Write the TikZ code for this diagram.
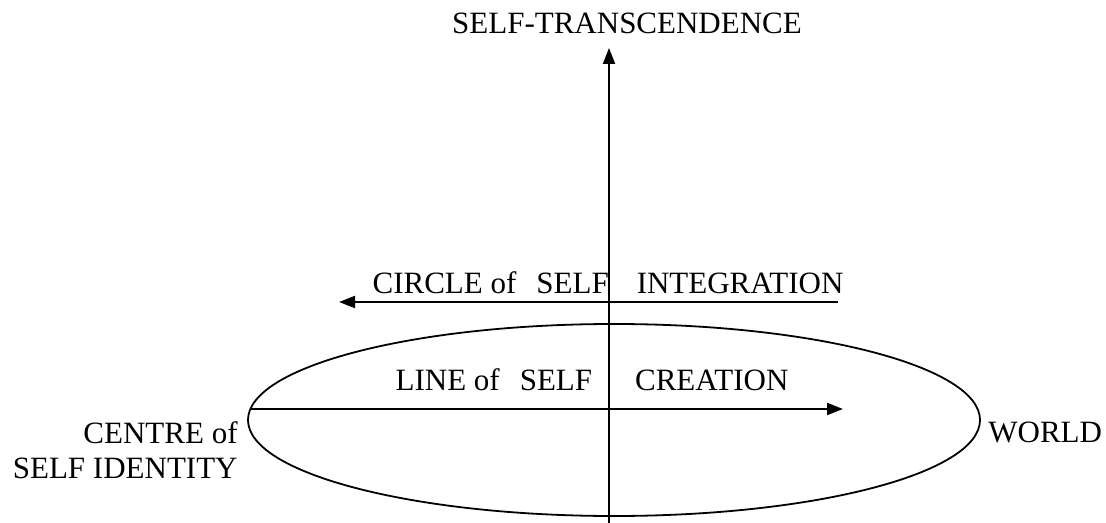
\documentclass[tikz,border=0pt]{standalone}
\usepackage{fontspec}
\setmainfont{Liberation Serif}
\usetikzlibrary{arrows.meta, positioning, shapes.geometric}

\begin{document}
\begin{tikzpicture}[
    x=0.5pt, y=-0.5pt,
    lbl/.style={font=\fontsize{15.5}{17.5}\selectfont, inner sep=0pt},
    arrow/.style={-{Triangle[length=8pt, width=6pt]}, line width=1pt},
    orbit/.style={draw, ellipse, line width=0.9pt, inner sep=0pt,
                  minimum width=366pt, minimum height=96pt},
]
\useasboundingbox (0,0) rectangle (1106,523);

% Ellipse
\node[orbit] (world) at (614,420) {};

% Axis
\coordinate (base) at (609,523);
\coordinate (peak) at (609,48);
\draw[arrow] (base) -- (peak);

% Arrows
\coordinate (intR) at (838,302);
\coordinate (intL) at (339,302);
\coordinate (creL) at (250,409);
\coordinate (creR) at (843,409);
\draw[arrow] (intR) -- (intL);
\draw[arrow] (creL) -- (creR);

% Labels
\node[lbl] (trans) at (627,23) {SELF-TRANSCENDENCE};
\node[lbl] (integ) at (608,283)
    {CIRCLE of\hspace{10pt}SELF\hspace{14pt}INTEGRATION};
\node[lbl] (crea) at (592,380)
    {LINE of\hspace{10pt}SELF\hspace{21.5pt}CREATION};
\node[lbl, align=right, anchor=north east] (centre) at (238,421)
    {CENTRE of\\SELF IDENTITY};
\node[lbl, anchor=west] (wld) at (988,432) {WORLD};
\end{tikzpicture}
\end{document}
